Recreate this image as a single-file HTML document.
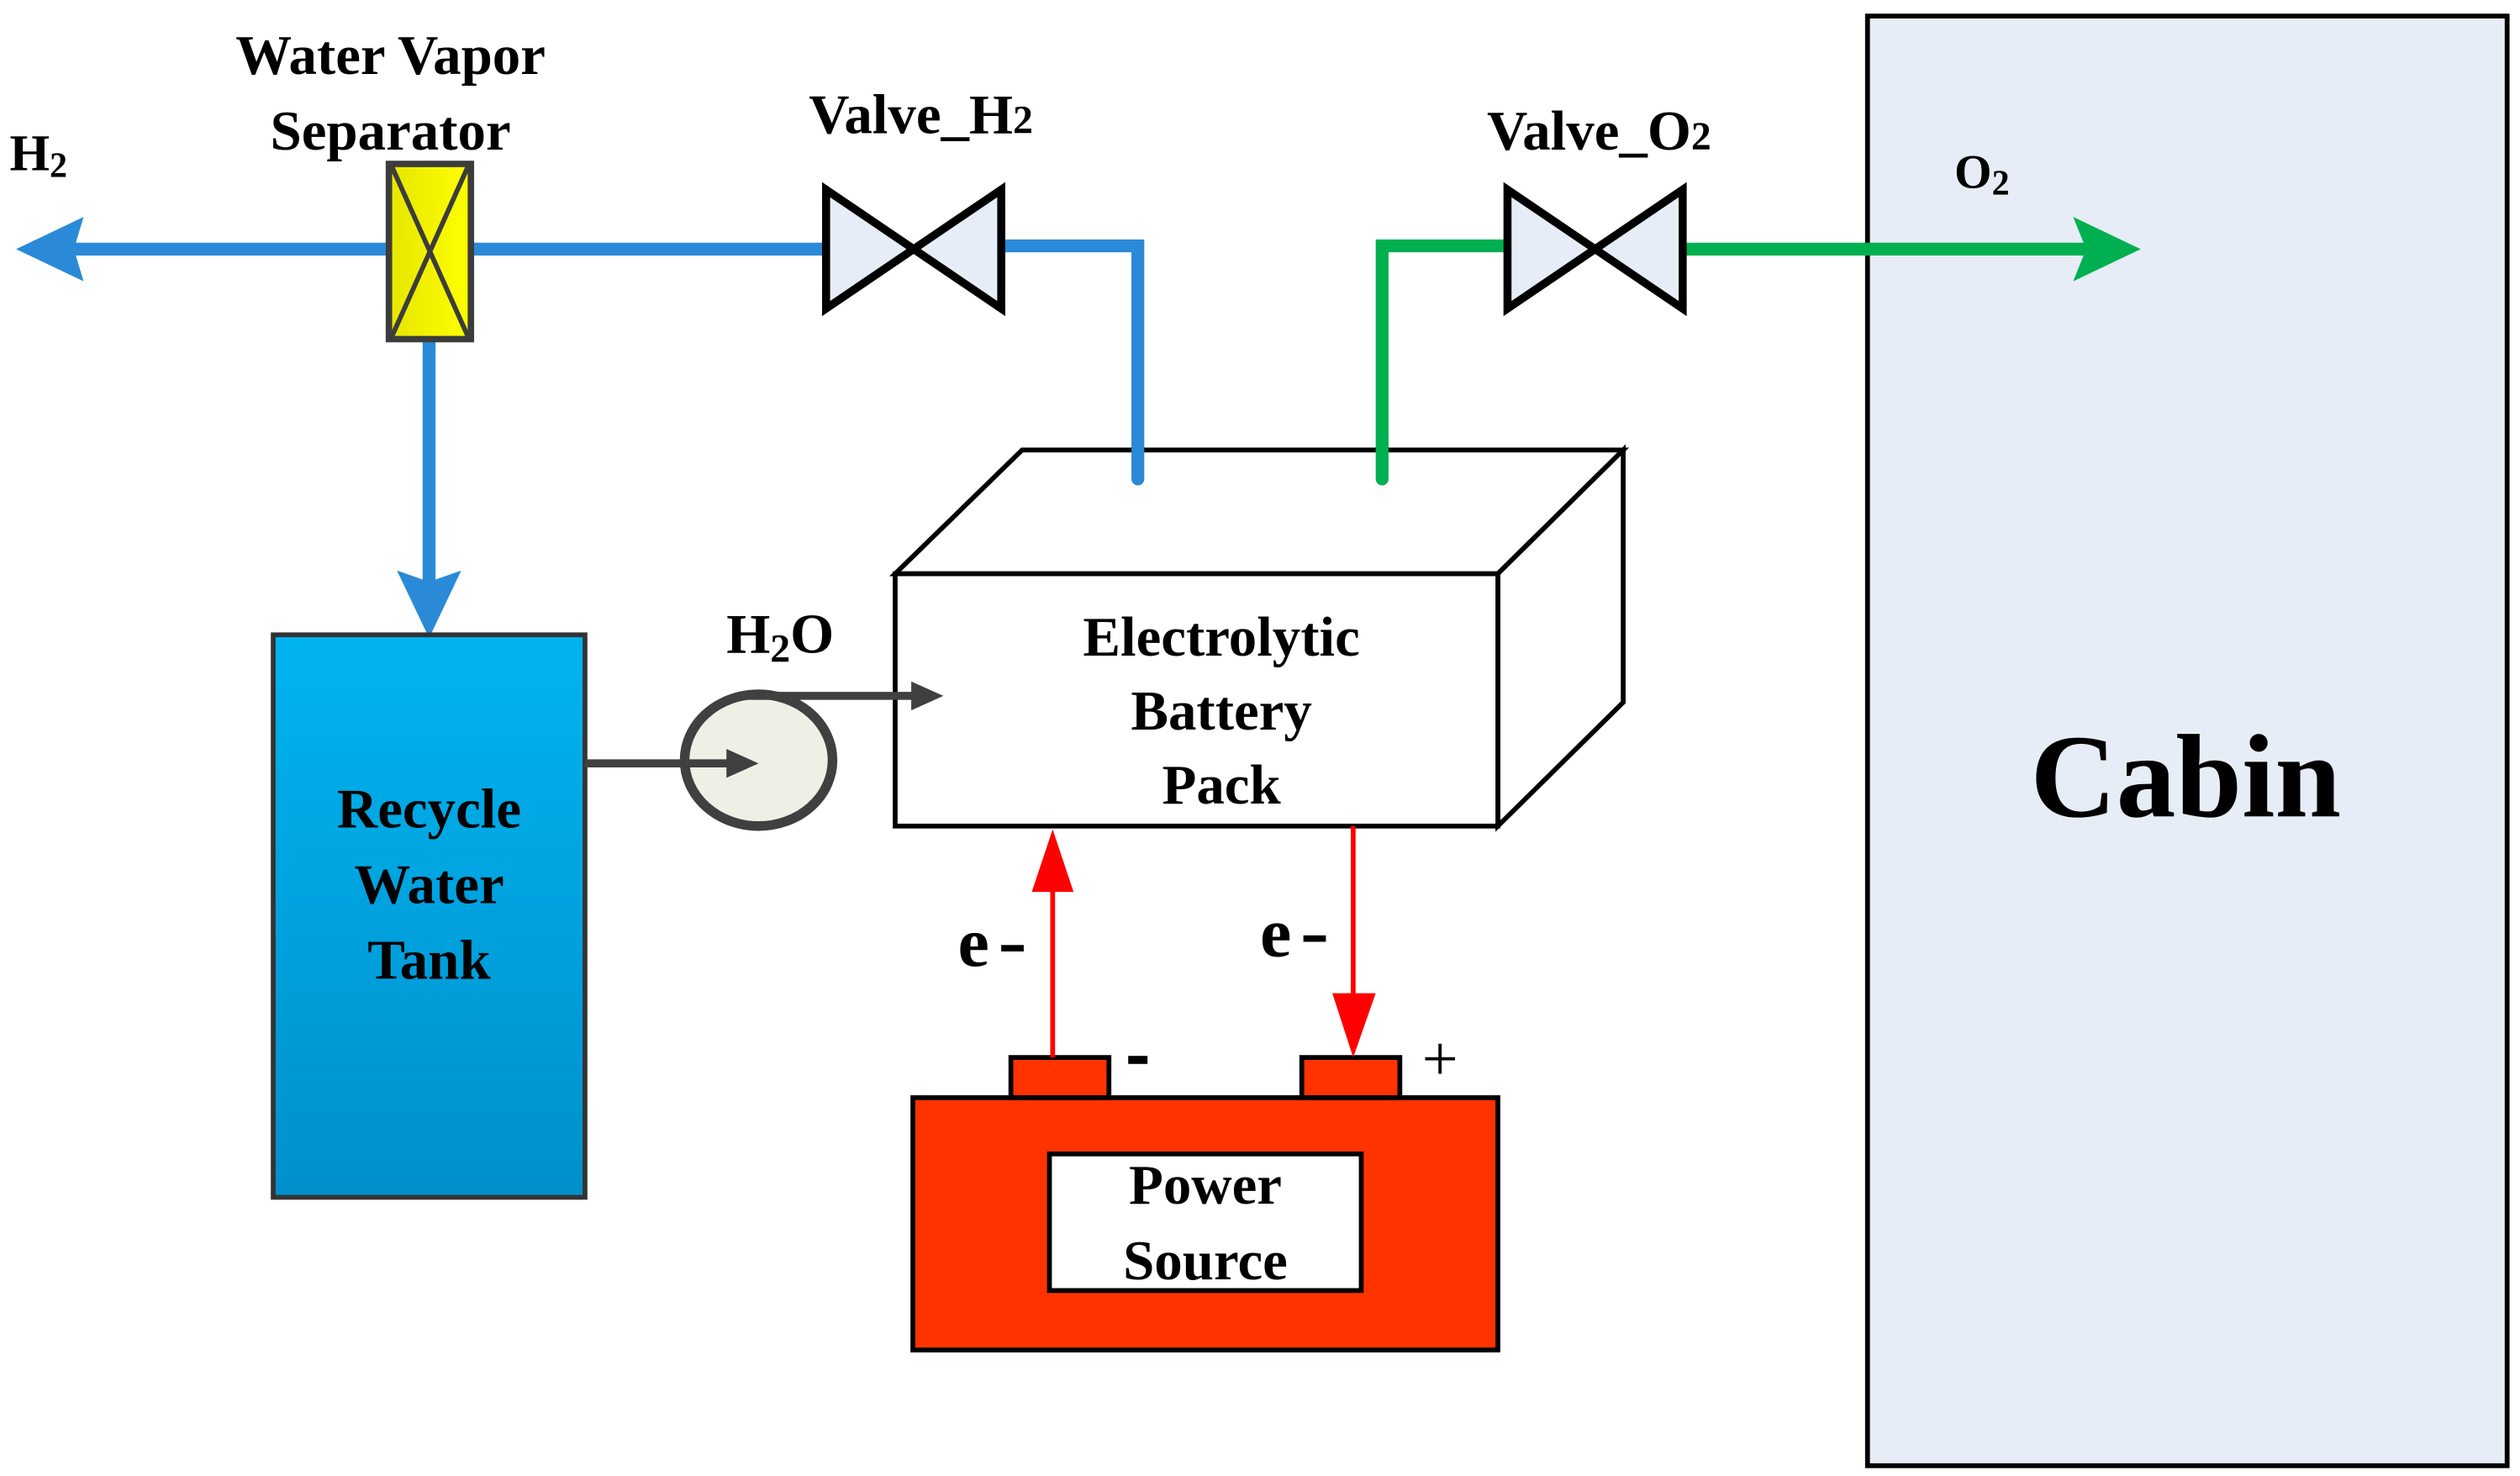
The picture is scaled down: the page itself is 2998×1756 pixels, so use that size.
<!DOCTYPE html>
<html><head><meta charset="utf-8"><style>html,body{margin:0;padding:0;background:#fff}svg{display:block}</style></head>
<body>
<svg width="2998" height="1756" viewBox="0 0 1568 918.4" preserveAspectRatio="none" xmlns="http://www.w3.org/2000/svg" font-family="'Liberation Serif', serif" font-weight="bold">
<defs>
<linearGradient id="tank" x1="0" y1="0" x2="0" y2="1"><stop offset="0" stop-color="#00b4f0"/><stop offset="1" stop-color="#0090cc"/></linearGradient>
<linearGradient id="yel" x1="0" y1="0" x2="1" y2="0"><stop offset="0" stop-color="#e6e600"/><stop offset="1" stop-color="#ffff00"/></linearGradient>
</defs>
<rect x="1162" y="10" width="398" height="902" fill="#e6edf6" stroke="#000" stroke-width="3"/>
<text x="1360" y="508" font-size="74" text-anchor="middle">Cabin</text>
<polyline points="860,298 860,153 937,153" fill="none" stroke="#00b050" stroke-width="8" stroke-linecap="round"/>
<line x1="1047" y1="155" x2="1300" y2="155" stroke="#00b050" stroke-width="8"/>
<polygon points="1332,155 1290,135 1298,155 1290,175" fill="#00b050"/>
<polygon points="938,118 938,192 1047,118 1047,192" fill="#e6edf6" stroke="#000" stroke-width="5"/>
<polyline points="708,298 708,153 623,153" fill="none" stroke="#2a8ad8" stroke-width="8" stroke-linecap="round"/>
<line x1="513" y1="155" x2="40" y2="155" stroke="#2a8ad8" stroke-width="8"/>
<polygon points="10,155 52,135 46,155 52,175" fill="#2a8ad8"/>
<polygon points="514,118 514,192 623,118 623,192" fill="#e6edf6" stroke="#000" stroke-width="5"/>
<line x1="267" y1="211" x2="267" y2="365" stroke="#2a8ad8" stroke-width="8"/>
<polygon points="267,397 247,355 267,362 287,355" fill="#2a8ad8"/>
<rect x="242" y="102" width="51" height="109" fill="url(#yel)" stroke="#3c3c3c" stroke-width="4"/>
<path d="M244,104 L291,209 M291,104 L244,209" stroke="#3c3c3c" stroke-width="3"/>
<text x="243" y="46" font-size="35" text-anchor="middle">Water Vapor</text>
<text x="243" y="93" font-size="35" text-anchor="middle">Separator</text>
<text x="573" y="83" font-size="35" text-anchor="middle">Valve_H<tspan font-size="25">2</tspan></text>
<text x="995" y="93" font-size="35" text-anchor="middle">Valve_O<tspan font-size="25">2</tspan></text>
<text x="6" y="106" font-size="32">H<tspan font-size="22" dy="4">2</tspan></text>
<text x="1216" y="117" font-size="30">O<tspan font-size="22" dy="4">2</tspan></text>
<rect x="170" y="395" width="194" height="350" fill="url(#tank)" stroke="#333" stroke-width="3"/>
<text x="267" y="515" font-size="35" text-anchor="middle">Recycle</text>
<text x="267" y="562" font-size="35" text-anchor="middle">Water</text>
<text x="267" y="609" font-size="35" text-anchor="middle">Tank</text>
<polygon points="557,357 636,280 1010,280 932,357" fill="#fff" stroke="#000" stroke-width="3"/>
<polygon points="932,357 1010,280 1010,437 932,514" fill="#fff" stroke="#000" stroke-width="3"/>
<rect x="557" y="357" width="375" height="157" fill="#fff" stroke="#000" stroke-width="3"/>
<line x1="708" y1="280" x2="708" y2="298" stroke="#2a8ad8" stroke-width="8" stroke-linecap="round"/>
<line x1="860" y1="280" x2="860" y2="298" stroke="#00b050" stroke-width="8" stroke-linecap="round"/>
<text x="760" y="408" font-size="35" text-anchor="middle">Electrolytic</text>
<text x="760" y="454" font-size="35" text-anchor="middle">Battery</text>
<text x="760" y="500" font-size="35" text-anchor="middle">Pack</text>
<ellipse cx="472" cy="473" rx="46" ry="41" fill="#eef0e6" stroke="#404040" stroke-width="6"/>
<line x1="364" y1="475" x2="455" y2="475" stroke="#404040" stroke-width="5"/>
<polygon points="472,475 452,466 452,484" fill="#404040"/>
<line x1="460" y1="433" x2="570" y2="433" stroke="#404040" stroke-width="5"/>
<polygon points="587,433 567,424 567,442" fill="#404040"/>
<text x="452" y="406" font-size="35">H<tspan font-size="25" dy="6">2</tspan><tspan dy="-6">O</tspan></text>
<rect x="568" y="683" width="364" height="157" fill="#ff3300" stroke="#000" stroke-width="3"/>
<rect x="629" y="658" width="61" height="25" fill="#ff3300" stroke="#000" stroke-width="3"/>
<rect x="810" y="658" width="61" height="25" fill="#ff3300" stroke="#000" stroke-width="3"/>
<rect x="653" y="718" width="194" height="85" fill="#fff" stroke="#000" stroke-width="3"/>
<text x="750" y="749" font-size="35" text-anchor="middle">Power</text>
<text x="750" y="796" font-size="35" text-anchor="middle">Source</text>
<rect x="702" y="657" width="12" height="5" fill="#000"/>
<text x="896" y="672" font-size="40" font-weight="normal" text-anchor="middle">+</text>
<line x1="655" y1="658" x2="655" y2="550" stroke="#ff0000" stroke-width="3"/>
<polygon points="655,516 642,555 668,555" fill="#ff0000"/>
<line x1="842" y1="514" x2="842" y2="625" stroke="#ff0000" stroke-width="3"/>
<polygon points="842,658 829,618 856,618" fill="#ff0000"/>
<text x="596" y="601" font-size="44">e</text><rect x="623" y="588" width="14" height="4" fill="#000"/>
<text x="784" y="595" font-size="44">e</text><rect x="811" y="582" width="14" height="4" fill="#000"/>
</svg>
</body></html>
